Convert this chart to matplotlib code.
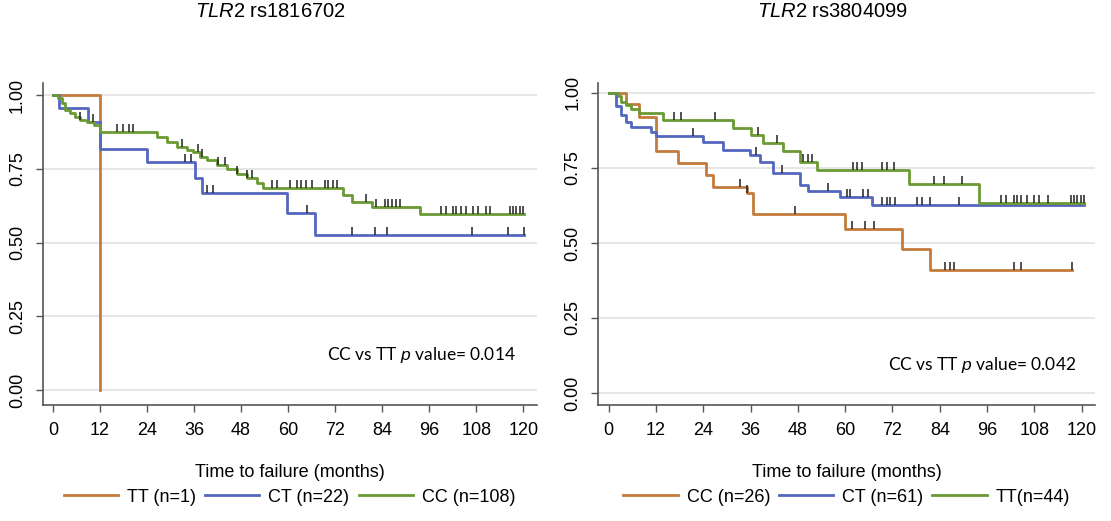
import numpy as np
import matplotlib
matplotlib.use("Agg")
import matplotlib.pyplot as plt
from matplotlib.lines import Line2D

plt.rcParams["font.family"] = ["Liberation Sans", "DejaVu Sans"]
plt.rcParams["mathtext.fontset"] = "custom"
plt.rcParams["mathtext.it"] = "Liberation Sans:italic"
plt.rcParams["mathtext.rm"] = "Liberation Sans"

ORANGE = "#C47A3C"
BLUE = "#5467BE"
GREEN = "#6A9A34"

# ---- TLR2 rs1816702 (left) ----
l_tt_time = [0, 12]
l_tt_surv = [1.0, 0.0]
l_tt_cens = []

l_ct_time = [0, 1.5, 9, 12, 24, 36.3, 38, 59.6, 66.8, 120.3]
l_ct_surv = [1.0, 0.955, 0.909, 0.818, 0.773, 0.718, 0.667, 0.600, 0.527, 0.527]
l_ct_cens = [33.6, 35.3, 39.2, 40.9, 64.8, 76.3, 82.2, 85.2, 106.9, 116, 120.3]

l_cc_time = [0, 1.4, 2.3, 3.1, 4.4, 5.7, 7.0, 8.6, 10.4, 12, 26.5, 29, 31.6, 34.1,
             35.8, 37.5, 39.2, 41.8, 44.3, 46.9, 49.4, 52, 53.7, 74, 76.2, 81.5, 93.6, 120.3]
l_cc_surv = [1.0, 0.989, 0.972, 0.949, 0.938, 0.926, 0.915, 0.910, 0.898, 0.876, 0.859,
             0.842, 0.825, 0.814, 0.808, 0.791, 0.780, 0.763, 0.751, 0.734, 0.718, 0.701,
             0.684, 0.661, 0.638, 0.621, 0.597, 0.597]
l_cc_cens = [7.0, 10.3, 16.3, 18, 19.3, 20.5, 32.9, 37.1, 38, 42.2, 43.9, 46.9, 49.4, 50.7,
             55.8, 57.1, 60.5, 62.2, 63.4, 64.7, 66, 69.4, 70.2, 71.5, 72.4, 80, 82.5, 84.7,
             85.5, 86.4, 87.6, 88.5, 99.1, 100.4, 102.1, 102.9, 104.2, 105.5, 107.1, 108.4,
             110.6, 111.4, 116.5, 117.4, 118.2, 119.1, 119.9]

# ---- TLR2 rs3804099 (right) ----
r_cc_time = [0, 4.5, 7.8, 12.1, 17.6, 24.8, 26.5, 35, 36.6, 60, 74.4, 81.6, 117.6]
r_cc_surv = [1.0, 0.962, 0.92, 0.805, 0.766, 0.728, 0.688, 0.666, 0.597, 0.546, 0.479, 0.41, 0.41]
r_cc_cens = [33.3, 35, 47.2, 61.7, 65.1, 67.2, 85.4, 86.7, 87.5, 102.8, 104.5, 117.6]

r_ct_time = [0, 1.9, 3.1, 4.4, 5.7, 10.8, 12.1, 23.9, 29, 35.8, 38.3, 41.7, 48.5, 50.6,
             58.7, 66.8, 120.6]
r_ct_surv = [1.0, 0.955, 0.927, 0.904, 0.888, 0.871, 0.855, 0.838, 0.81, 0.793, 0.771,
             0.732, 0.694, 0.672, 0.654, 0.627, 0.627]
r_ct_cens = [21.4, 37.5, 43.9, 55.7, 60.4, 61.2, 64.6, 65.9, 69.3, 70.6, 71.4, 72.7, 78.2,
             79.5, 81.6, 88.8]

r_tt_time = [0, 2.3, 3.1, 4.4, 5.7, 7.8, 13.8, 31.6, 36.2, 39.2, 44.3, 48.5, 52.8, 76.1,
             93.9, 120.6]
r_tt_surv = [1.0, 0.988, 0.971, 0.96, 0.945, 0.932, 0.91, 0.882, 0.86, 0.832, 0.805, 0.771,
             0.743, 0.697, 0.633, 0.633]
r_tt_cens = [16.7, 18.4, 26.9, 37.9, 42.6, 49.4, 50.6, 51.5, 62.1, 63, 64.2, 69.3, 70.6,
             72.3, 82.5, 85, 89.7, 99.4, 100.7, 102.8, 103.6, 104.5, 106.1, 107.9, 109.2,
             111.3, 117.2, 118.1, 118.9, 119.8, 120.6]

x_ticks = np.arange(0, 121, 12)
y_ticks = [0, 0.25, 0.5, 0.75, 1.0]


def surv_at(t, times, surv):
    idx = np.searchsorted(np.asarray(times), np.asarray(t), side="right") - 1
    return np.asarray(surv)[idx]


def km(ax, times, surv, cens, color):
    ax.step(times, surv, where="post", color=color, lw=2.0, zorder=3)
    if len(cens):
        ax.plot(cens, surv_at(cens, times, surv), linestyle="none", marker=2,
                markersize=6, markeredgewidth=1.1, color="#222222", zorder=4)


def style(ax, ylim):
    ax.set_xlim(-2.6, 123.4)
    ax.set_ylim(*ylim)
    ax.set_xticks(x_ticks)
    ax.set_yticks(y_ticks)
    ax.set_yticklabels(["0.00", "0.25", "0.50", "0.75", "1.00"], rotation=90, va="center")
    ax.tick_params(axis="both", direction="out", length=5, width=1.0, color="#555555",
                   labelsize=13, pad=7)
    ax.yaxis.grid(True, color="#e4e4e4", lw=1.3)
    ax.set_axisbelow(True)
    for s in ["top", "right"]:
        ax.spines[s].set_visible(False)
    for s in ["left", "bottom"]:
        ax.spines[s].set_color("#555555")
        ax.spines[s].set_linewidth(1.2)
    ax.set_xlabel("Time to failure (months)", fontsize=13, va="center")
    ax.xaxis.set_label_coords(0.5, -0.208)


fig = plt.figure(figsize=(11.11, 5.21), dpi=100)
ax1 = fig.add_axes([0.0384, 0.2226, 0.4446, 0.6187])
ax2 = fig.add_axes([0.5385, 0.2226, 0.4473, 0.6187])

km(ax1, l_tt_time, l_tt_surv, l_tt_cens, ORANGE)
km(ax1, l_ct_time, l_ct_surv, l_ct_cens, BLUE)
km(ax1, l_cc_time, l_cc_surv, l_cc_cens, GREEN)
style(ax1, (-0.051, 1.042))
fig.text(0.243, 0.977, r"$\it{TLR2}$ rs1816702", ha="center", va="center", fontsize=14.5)
ax1.text(118, 0.12, r"CC vs TT $\it{p}$ value= 0.014", ha="right", va="center",
         fontsize=12.5, family=["Lato", "DejaVu Sans"])

km(ax2, r_cc_time, r_cc_surv, r_cc_cens, ORANGE)
km(ax2, r_ct_time, r_ct_surv, r_ct_cens, BLUE)
km(ax2, r_tt_time, r_tt_surv, r_tt_cens, GREEN)
style(ax2, (-0.04, 1.034))
fig.text(0.749, 0.977, r"$\it{TLR2}$ rs3804099", ha="center", va="center", fontsize=14.5)
ax2.text(118.5, 0.093, r"CC vs TT $\it{p}$ value= 0.042", ha="right", va="center",
         fontsize=12.5, family=["Lato", "DejaVu Sans"])

left_labels = ["TT (n=1)", "CT (n=22)", "CC (n=108)"]
right_labels = ["CC (n=26)", "CT (n=61)", "TT(n=44)"]
colors = [ORANGE, BLUE, GREEN]

for ax, labels in [(ax1, left_labels), (ax2, right_labels)]:
    handles = [Line2D([], [], color=c, lw=2.0) for c in colors]
    ax.legend(handles, labels, loc="center", bbox_to_anchor=(0.5, -0.286), ncol=3,
              frameon=False, fontsize=13, handlelength=3.0, handletextpad=0.5,
              columnspacing=0.5)

fig.savefig("out.png", dpi=100)
